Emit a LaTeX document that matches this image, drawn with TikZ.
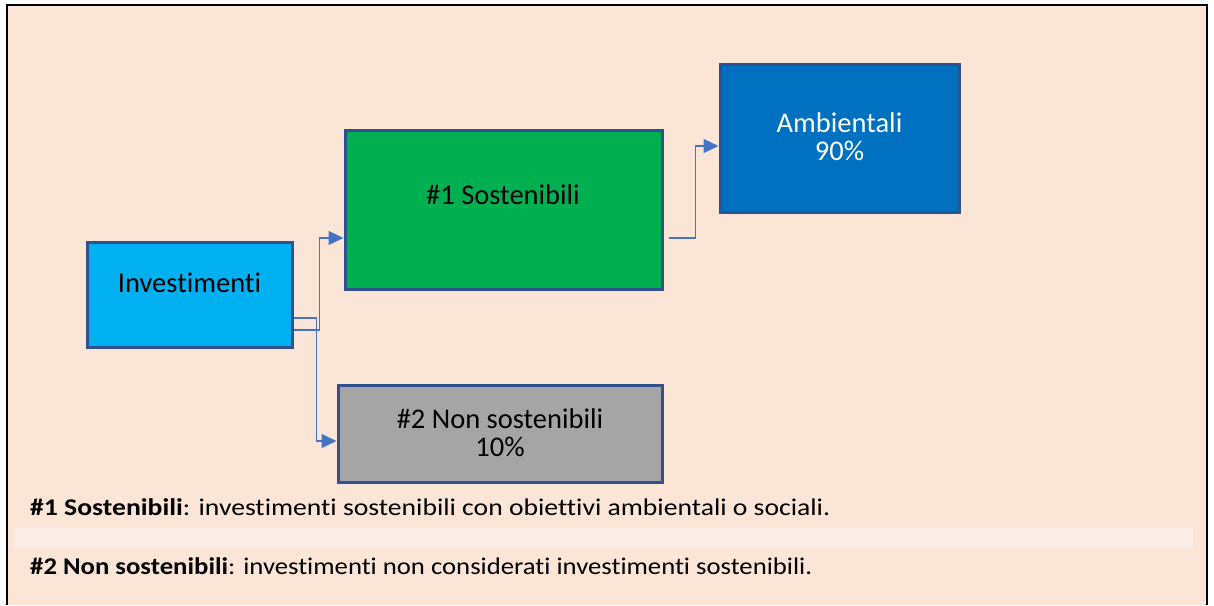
\documentclass[tikz,border=0pt]{standalone}
\usepackage{fontspec}
\setmainfont[Ligatures=NoCommon]{Carlito}
\usetikzlibrary{arrows.meta,calc}
\definecolor{bgpeach}{HTML}{FBE5D6}
\definecolor{strip}{HTML}{FAEDE5}
\definecolor{boxline}{HTML}{2F528F}
\definecolor{conncol}{HTML}{4472C4}
\definecolor{cyanfill}{HTML}{00B0F0}
\definecolor{greenfill}{HTML}{00B050}
\definecolor{bluefill}{HTML}{0070C0}
\definecolor{greyfill}{HTML}{A5A5A5}
\tikzset{
  boxnode/.style={draw=boxline, line width=3pt, inner sep=0pt},
  boxtext/.style={anchor=base, inner sep=0pt, align=center, font=\fontsize{28.5}{28}\selectfont},
  conn/.style={draw=conncol, line width=1.2pt, -{Triangle[length=15pt,width=14pt]}},
  note/.style={anchor=base west, inner sep=0pt, font=\fontsize{24}{26}\selectfont}
}
\begin{document}
\begin{tikzpicture}[x=1pt,y=-1pt]
\useasboundingbox (0,0) rectangle (1214,605);
% background and frame
\fill[bgpeach] (7,5) rectangle (1207,605);
\fill[strip] (14,528) rectangle (1193,548);
\draw[black, line width=2pt] (7,605) -- (7,5) -- (1207,5) -- (1207,605);

% boxes
\node[boxnode, fill=cyanfill, minimum width=205pt, minimum height=105pt] (inv) at (189.5,294.5) {};
\node[boxtext] (invt) at (189.5,292) {Investimenti};

\node[boxnode, fill=greenfill, minimum width=317pt, minimum height=159pt] (sost) at (503.5,209.5) {};
\node[boxtext] (sostt) at (503,204) {\#1 Sostenibili};

\node[boxnode, fill=bluefill, minimum width=239pt, minimum height=148pt] (amb) at (839.5,138) {};
\node[boxtext, text=white] (ambt) at (839.5,160) {Ambientali\\90\%};

\node[boxnode, fill=greyfill, minimum width=324pt, minimum height=97pt] (nons) at (500,433.5) {};
\node[boxtext] (nonst) at (500,456) {\#2 Non sostenibili\\10\%};

% connectors
\draw[conn] ([yshift=-35.5pt]inv.east) -- ++(26,0) |- ([yshift=-28.5pt]sost.west);
\draw[conn] ([yshift=-23.5pt]inv.east) -- ++(23,0) |- ([yshift=-7.5pt]nons.west);
\draw[conn] ([xshift=5pt,yshift=-28.5pt]sost.east) -- ++(27,0) |- ([yshift=-8pt]amb.west);

% notes
\node[note] (n1) at (30,515) {\resizebox{800pt}{\height}{\textbf{\#1 Sostenibili}: investimenti sostenibili con obiettivi ambientali o sociali.}};
\node[note] (n2) at (30,574) {\resizebox{782pt}{\height}{\textbf{\#2 Non sostenibili}: investimenti non considerati investimenti sostenibili.}};
\end{tikzpicture}
\end{document}
